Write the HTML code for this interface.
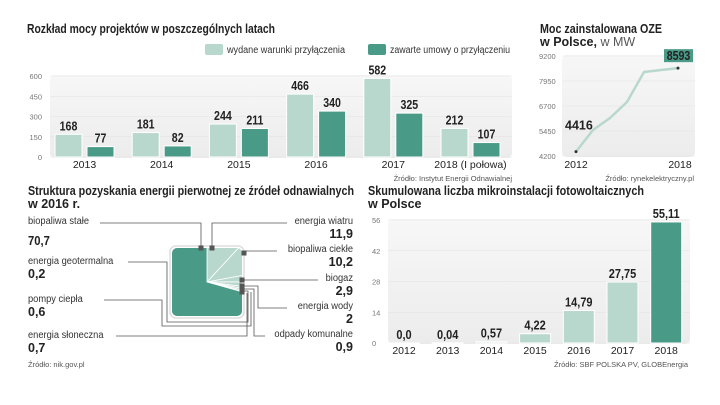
<!DOCTYPE html>
<html><head><meta charset="utf-8">
<style>
html,body{margin:0;padding:0;background:#fff;}
svg{display:block;font-family:"Liberation Sans",sans-serif;}
.t{font-weight:bold;font-size:12.5px;fill:#222;}
.tick{font-size:7.5px;fill:#777;}
.yr{font-size:10.5px;fill:#222;}
.val{font-weight:bold;font-size:12.5px;fill:#222;}
.src{font-size:7.5px;fill:#555;}
.lab{font-size:10px;fill:#333;}
</style></head>
<body>
<svg id="root" width="720" height="405" viewBox="0 0 720 405">
<defs>
<linearGradient id="bg" x1="0" y1="0" x2="0" y2="1"><stop offset="0" stop-color="#f7f7f7"/><stop offset="1" stop-color="#ececec"/></linearGradient>
<clipPath id="sqclip"><rect x="172" y="248" width="70" height="68" rx="5"/></clipPath>
</defs>

<g id="c1">
<text class="t" x="27" y="33" textLength="248" lengthAdjust="spacingAndGlyphs">Rozkład mocy projektów w poszczególnych latach</text>
<rect x="205" y="44" width="18" height="11" rx="2" fill="#b9d8cd"/>
<text class="lab" x="227" y="53" fill="#555" textLength="118" lengthAdjust="spacingAndGlyphs">wydane warunki przyłączenia</text>
<rect x="368" y="44" width="18" height="11" rx="2" fill="#4a9a88"/>
<text class="lab" x="390" y="53" fill="#555" textLength="120" lengthAdjust="spacingAndGlyphs">zawarte umowy o przyłączeniu</text>
<rect x="50" y="75" width="462" height="83" rx="5" fill="url(#bg)"/>
<g id="c1g"></g>
<text class="src" x="512" y="181" text-anchor="end">Źródło: Instytut Energii Odnawialnej</text>
</g>

<g id="c2">
<text class="t" x="540" y="33" textLength="122" lengthAdjust="spacingAndGlyphs">Moc zainstalowana OZE</text>
<text class="t" x="540" y="46">w Polsce,<tspan font-weight="normal" fill="#555"> w MW</tspan></text>
<rect x="562" y="55" width="133" height="102" rx="5" fill="url(#bg)"/>
<g id="c2g"></g>
<text class="src" x="694" y="181" text-anchor="end">Źródło: rynekelektryczny.pl</text>
</g>

<g id="c3">
<text class="t" x="28" y="195" textLength="326" lengthAdjust="spacingAndGlyphs">Struktura pozyskania energii pierwotnej ze źródeł odnawialnych</text>
<text class="t" x="28" y="208">w 2016 r.</text>
<rect x="170" y="246" width="74" height="72" rx="6" fill="#fff" stroke="#ddd" stroke-width="1.5"/>
<g id="c3g" clip-path="url(#sqclip)"></g>
<g id="c3l" fill="none" stroke="#555" stroke-width="0.8"></g>
<g id="c3t"></g>
<text class="src" x="28" y="367">Źródło: nik.gov.pl</text>
</g>

<g id="c4">
<text class="t" x="368" y="195" textLength="276" lengthAdjust="spacingAndGlyphs">Skumulowana liczba mikroinstalacji fotowoltaicznych</text>
<text class="t" x="368" y="208">w Polsce</text>
<rect x="388" y="219" width="302" height="125" rx="5" fill="url(#bg)"/>
<g id="c4g"></g>
<text class="src" x="688" y="367" text-anchor="end">Źródło: SBF POLSKA PV, GLOBEnergia</text>
</g>
</svg>

<script>
const c1Years = ["2013","2014","2015","2016","2017","2018 (I połowa)"];
const c1Conditions = [168,181,244,466,582,212];
const c1Contracts = [77,82,211,340,325,107];
const c1Ticks = [0,150,300,450,600];
const c2Years = [2012,2013,2014,2015,2016,2017,2018];
const c2Values = [4416,5500,6100,6900,8400,8500,8593];
const c2Ticks = [4200,5450,6700,7950,9200];
const c3Names = ["energia wiatru","biopaliwa ciekłe","biogaz","energia wody","odpady komunalne","energia słoneczna","pompy ciepła","energia geotermalna","biopaliwa stałe"];
const c3Values = [11.9,10.2,2.9,2,0.9,0.7,0.6,0.2,70.7];
const c3Labels = ["11,9","10,2","2,9","2","0,9","0,7","0,6","0,2","70,7"];
const c4Years = ["2012","2013","2014","2015","2016","2017","2018"];
const c4Values = [0,0.04,0.57,4.22,14.79,27.75,55.11];
const c4Labels = ["0,0","0,04","0,57","4,22","14,79","27,75","55,11"];
const c4Ticks = [0,14,28,42,56];

const NS="http://www.w3.org/2000/svg";
function mk(parent,tag,attrs,text){const e=document.createElementNS(NS,tag);for(const k in attrs)e.setAttribute(k,attrs[k]);if(text!==undefined)e.textContent=text;parent.appendChild(e);return e;}
const LIGHT="#b9d8cd",DARK="#4a9a88";
function narrow(t,f){const w=t.getComputedTextLength();if(w>0){t.setAttribute('textLength',(w*f).toFixed(1));t.setAttribute('lengthAdjust','spacingAndGlyphs');}}

(function(){
 const g=document.getElementById('c1g');
 const y=v=>157-v/600*81;
 c1Ticks.forEach(t=>{
  const l=mk(g,'line',{x1:50,x2:512,y1:y(t),y2:y(t),stroke:'#e2e2e2','stroke-width':0.6});
  
  
  const tx=mk(g,'text',{class:'tick',x:42,y:y(t)+3,'text-anchor':'end'},String(t));
  
  
 });
 c1Years.forEach((yr,i)=>{
  const x0=55+i*77.2;
  [[c1Conditions[i],LIGHT,x0,'conditions'],[c1Contracts[i],DARK,x0+32,'contracts']].forEach(([v,c,x,n])=>{
   const r=mk(g,'rect',{x:x,y:y(v),width:27,height:157-y(v),fill:c,stroke:'#fff','stroke-width':1});
   
   
   const t=mk(g,'text',{class:'val',x:x+13.5,y:y(v)-4,'text-anchor':'middle'},String(v));
   
   
   narrow(t,0.85);
  });
  const t=mk(g,'text',{class:'yr',x:x0+29.5,y:168,'text-anchor':'middle'},yr);
  
  
 });
})();

(function(){
 const g=document.getElementById('c2g');
 const y=v=>156-(v-4200)/5000*100;
 const x=yr=>576+(yr-2012)*17;
 c2Ticks.forEach(t=>{
  const l=mk(g,'line',{x1:562,x2:695,y1:y(t),y2:y(t),stroke:'#e2e2e2','stroke-width':0.6});
  
  
  const tx=mk(g,'text',{class:'tick',x:539,y:y(t)+3},String(t));
  
  
 });
 const pts=c2Years.map((yr,i)=>x(yr)+','+y(c2Values[i])).join(' ');
 const pl=mk(g,'polyline',{points:pts,fill:'none',stroke:LIGHT,'stroke-width':2.5,'stroke-linejoin':'round'});
 
 
 [0,c2Years.length-1].forEach(i=>{
  const c=mk(g,'circle',{cx:x(c2Years[i]),cy:y(c2Values[i]),r:1.5,fill:'#333'});
  
  
 });
 const f=mk(g,'text',{class:'val',x:565,y:y(c2Values[0])-22},String(c2Values[0]));
 
 
 const li=c2Years.length-1;
 const b=mk(g,'rect',{x:x(c2Years[li])-14,y:y(c2Values[li])-19,width:29,height:13,fill:DARK});
 
 
 const lt=mk(g,'text',{class:'val',x:x(c2Years[li])+0.5,y:y(c2Values[li])-8,'text-anchor':'middle',fill:'#fff'},String(c2Values[li]));
 
 
 narrow(lt,0.85);
 const a=mk(g,'text',{class:'yr',x:576,y:168,'text-anchor':'middle'},String(c2Years[0]));
 
 
 const z=mk(g,'text',{class:'yr',x:680,y:168,'text-anchor':'middle'},String(c2Years[li]));
 
 
})();

(function(){
 const g=document.getElementById('c3g');
 const cx=207,cy=282,R=80;
 const total=c3Values.reduce((a,b)=>a+b,0);
 let acc=0;
 c3Values.forEach((v,i)=>{
  const a0=acc/total*2*Math.PI; acc+=v; const a1=acc/total*2*Math.PI;
  const p=a=>(cx+R*Math.sin(a)).toFixed(2)+','+(cy-R*Math.cos(a)).toFixed(2);
  const large=(a1-a0)>Math.PI?1:0;
  const path=mk(g,'path',{d:'M'+cx+','+cy+' L'+p(a0)+' A'+R+','+R+' 0 '+large+' 1 '+p(a1)+' Z',fill:i===c3Values.length-1?DARK:LIGHT,stroke:'#fff','stroke-width':0.8});
  
  
 });
 const L=document.getElementById('c3l');
 const lines=[
  "100,223 201,223 201,248","287,223 212,223 212,248","277,251 246,251 243,255",
  "318,280 242,280","287,308 258,308 258,286 242,286","265,336 254,336 254,289 242,289",
  "128,262 167,262 167,322 248,322 248,291 242,291","104,300 162,300 162,326 251,326 251,292","116,336 247,336 247,293"];
 lines.forEach(pt=>{
  const l=mk(L,'polyline',{points:pt});
  
  
 });
 [[201,248],[212,248],[244,253],[242,280],[242,286],[242,289],[242,292]].forEach(([x,y])=>{
  const r=mk(L,'rect',{x:x-2.5,y:y-2.5,width:5,height:5,fill:'#555',stroke:'none'});
  
  
 });
 const T=document.getElementById('c3t');
 const right=[[0,224],[1,252],[2,281],[3,309],[4,337]];
 right.forEach(([i,yy])=>{
  const a=mk(T,'text',{class:'lab',x:353,y:yy,'text-anchor':'end'},c3Names[i]);
  
  
  narrow(a,0.93);
  const b=mk(T,'text',{class:'val',x:353,y:yy+14,'text-anchor':'end','font-size':11.5},c3Labels[i]);
  
  
 });
 const left=[[8,224],[7,264],[6,302],[5,338]];
 left.forEach(([i,yy])=>{
  const a=mk(T,'text',{class:'lab',x:28,y:yy},c3Names[i]);
  
  
  narrow(a,0.93);
  const big=i===8;
  const b=mk(T,'text',{class:'val',x:28,y:yy+(big?21:14),'font-size':big?22:11.5},c3Labels[i]);
  
  
  if(big) narrow(b,0.9);
 });
})();

(function(){
 const g=document.getElementById('c4g');
 const y=v=>343-v/56*123;
 c4Ticks.forEach(t=>{
  const l=mk(g,'line',{x1:388,x2:690,y1:y(t),y2:y(t),stroke:'#e2e2e2','stroke-width':0.6});
  
  
  const tx=mk(g,'text',{class:'tick',x:372,y:y(t)+3},String(t));
  
  
 });
 c4Years.forEach((yr,i)=>{
  const cxm=404+i*43.7;
  const v=c4Values[i];
  const r=mk(g,'rect',{x:cxm-15.5,y:y(v),width:31,height:Math.max(343-y(v),0.5),fill:i===c4Years.length-1?DARK:LIGHT,stroke:'#fff','stroke-width':1});
  
  
  const t=mk(g,'text',{class:'val',x:cxm,y:y(v)-4,'text-anchor':'middle'},c4Labels[i]);
  
  
  narrow(t,0.88);
  const a=mk(g,'text',{class:'yr',x:cxm,y:354,'text-anchor':'middle'},yr);
  
  
 });
})();
</script>
</body></html>
